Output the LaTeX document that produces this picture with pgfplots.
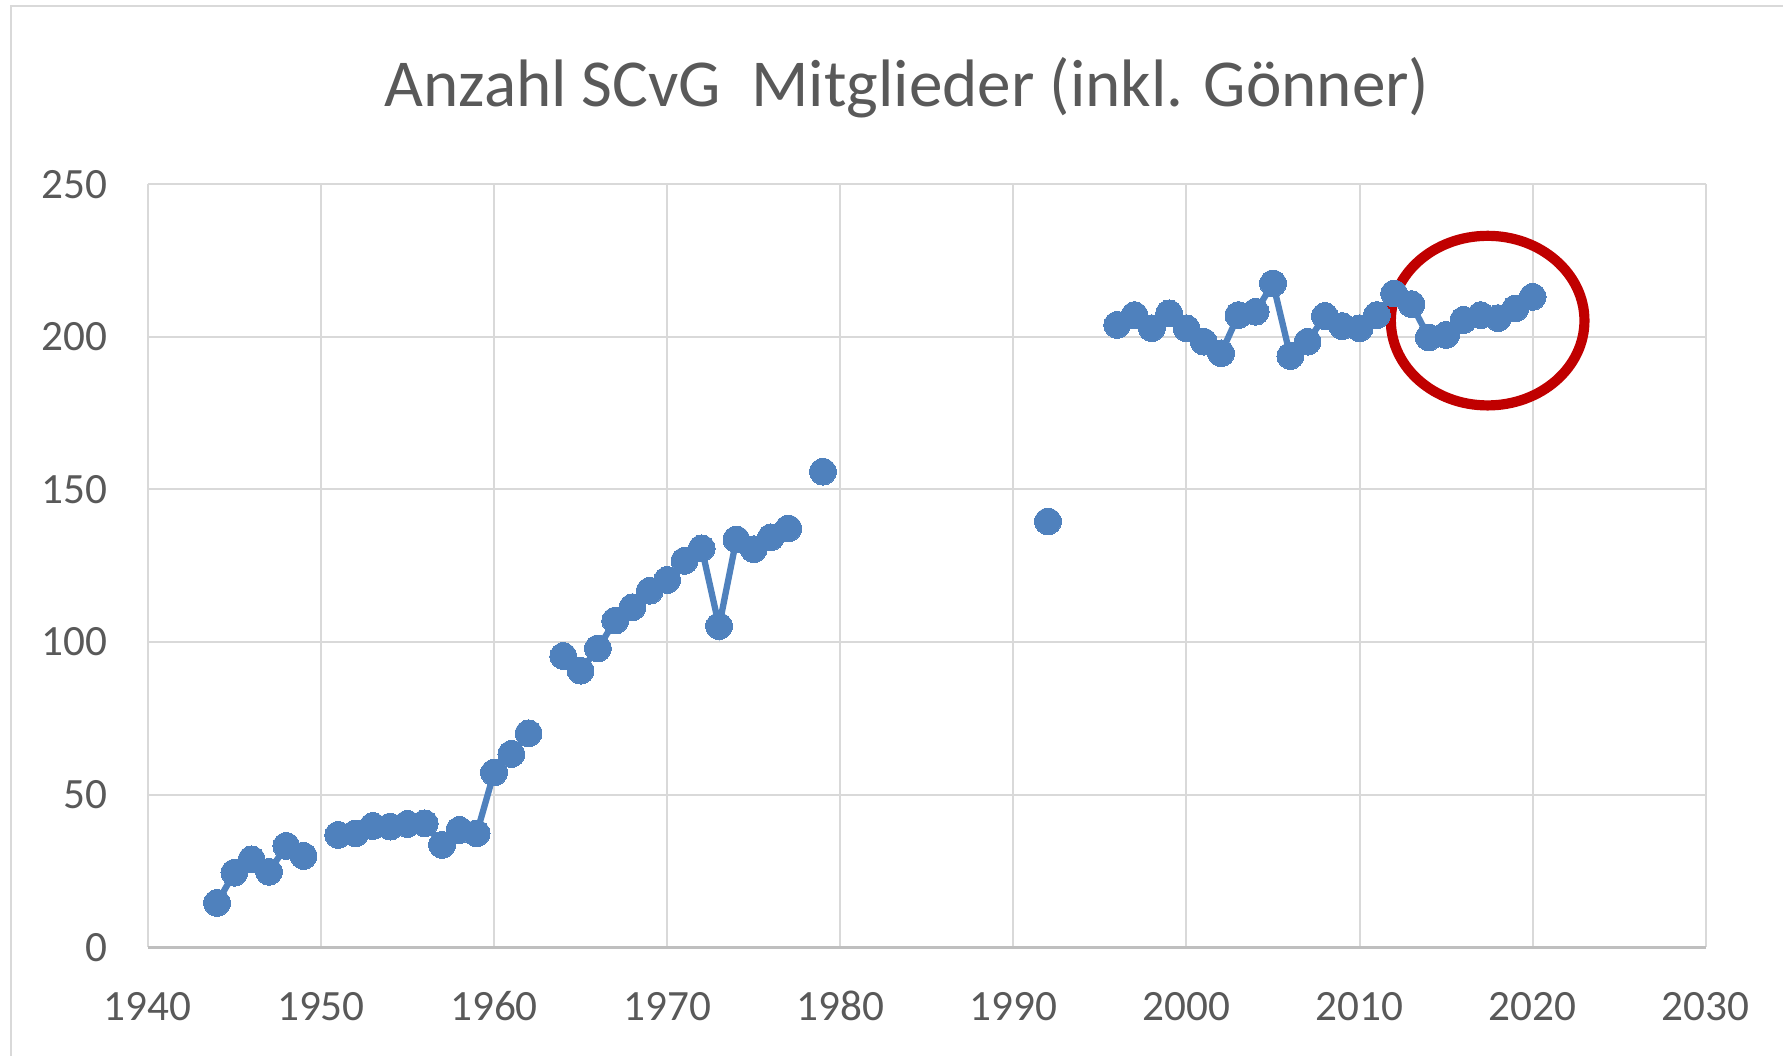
\documentclass[border=0pt]{standalone}
\usepackage{fontspec}
\setmainfont{Carlito}
\usepackage{pgfplots}
\pgfplotsset{compat=1.18}
\definecolor{titlegray}{HTML}{595959}
\definecolor{gridgray}{HTML}{D9D9D9}
\definecolor{axisgray}{HTML}{BFBFBF}
\definecolor{dotblue}{HTML}{4F81BD}
\definecolor{circred}{HTML}{C00000}
\begin{document}
\begin{tikzpicture}
\useasboundingbox (-1.478cm,-1.088cm) rectangle (16.352cm,9.472cm);
\draw[gridgray, line width=0.28mm] (-1.368cm,-2cm) -- (-1.368cm,9.412cm) -- (17cm,9.412cm);
\begin{axis}[
  at={(0,0)}, anchor=south west, scale only axis,
  width=15.58cm, height=7.63cm,
  xmin=1940, xmax=2030, ymin=0, ymax=250,
  xtick={1940,1950,...,2030}, ytick={0,50,...,250},
  grid=major, grid style={draw=gridgray, line width=0.2mm},
  axis line style={draw=none},
  major tick length=0pt,
  tick label style={font=\fontsize{12.3}{14}\selectfont, text=titlegray},
  /pgf/number format/assume math mode=true,
  /pgf/number format/1000 sep={},
  xticklabel style={anchor=base, inner sep=0pt, yshift=-7.35mm},
  yticklabel style={anchor=east, inner sep=0pt, xshift=-4mm},
  unbounded coords=jump,
  clip=false,
]
\draw[axisgray, line width=0.3mm] (axis cs:1940,0) -- (axis cs:2030,0);
\addplot[color=dotblue, line width=1.8pt, mark=*, mark size=3.8pt,
  mark options={fill=dotblue, draw=dotblue, line width=0pt}] table {
x y
1944 14.5
1945 24.4
1946 28.8
1947 24.7
1948 33.2
1949 29.9
1950 nan
1951 36.8
1952 37.3
1953 39.7
1954 39.5
1955 40.4
1956 40.6
1957 33.5
1958 38.4
1959 37.3
1960 57.2
1961 63.3
1962 70.1
1963 nan
1964 95.4
1965 90.6
1966 97.9
1967 107.0
1968 111.4
1969 116.8
1970 120.3
1971 126.6
1972 130.7
1973 105.2
1974 133.6
1975 130.4
1976 134.3
1977 137.2
1978 nan
1979 155.8
1980 nan
1992 139.5
1993 nan
1996 203.9
1997 207.1
1998 202.8
1999 207.7
2000 202.8
2001 198.4
2002 194.6
2003 207.1
2004 208.2
2005 217.5
2006 193.7
2007 198.4
2008 206.8
2009 203.5
2010 202.8
2011 207.1
2012 214.2
2013 210.7
2014 199.8
2015 200.6
2016 205.5
2017 207.1
2018 206.1
2019 209.3
2020 213.1
};
\draw[circred, line width=2.9pt] (axis cs:2017.4,205.3) ellipse [x radius=0.968cm, y radius=0.848cm];
\end{axis}
\node[anchor=base, font=\fontsize{19.1}{23}\selectfont, text=titlegray, inner sep=0pt]
  at (7.592cm,8.405cm) {Anzahl SCvG\ \ Mitglieder (inkl. Gönner)};
\end{tikzpicture}
\end{document}
